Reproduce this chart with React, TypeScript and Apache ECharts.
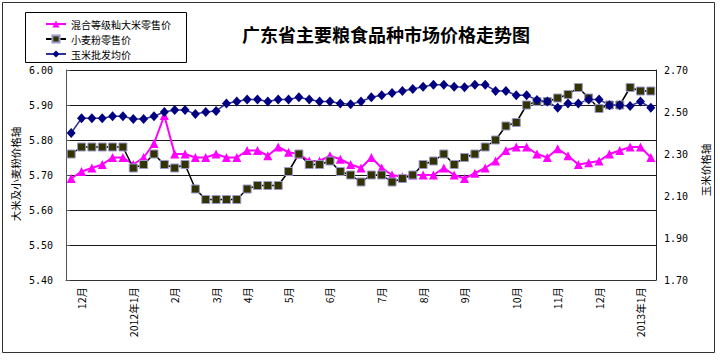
import React, { useEffect, useRef } from "react";
import * as echarts from "echarts";

const monthLabels = ["12月", "2012年1月", "2月", "3月", "4月", "5月", "6月", "7月", "8月", "9月", "10月", "11月", "12月", "2013年1月"];
const monthTickIndex = [1, 6, 10, 14, 17, 21, 25, 30, 34, 38, 43, 47, 51, 55];

const riceRetail = [
  5.69, 5.71, 5.72, 5.73, 5.75, 5.75, 5.73, 5.75, 5.79, 5.87,
  5.76, 5.76, 5.75, 5.75, 5.76, 5.75, 5.75, 5.77, 5.77, 5.755,
  5.78, 5.765, 5.76, 5.74, 5.74, 5.755, 5.745, 5.73, 5.72, 5.75,
  5.72, 5.70, 5.695, 5.70, 5.70, 5.70, 5.72, 5.70, 5.69, 5.705,
  5.72, 5.74, 5.77, 5.78, 5.78, 5.76, 5.75, 5.775, 5.755, 5.73,
  5.735, 5.74, 5.76, 5.77, 5.78, 5.78, 5.75,
];

const wheatFlourRetail = [
  5.76, 5.78, 5.78, 5.78, 5.78, 5.78, 5.72, 5.73, 5.76, 5.73,
  5.72, 5.73, 5.66, 5.63, 5.63, 5.63, 5.63, 5.66, 5.67, 5.67,
  5.67, 5.71, 5.76, 5.73, 5.73, 5.74, 5.71, 5.70, 5.68, 5.70,
  5.70, 5.68, 5.69, 5.70, 5.73, 5.74, 5.76, 5.73, 5.75, 5.76,
  5.78, 5.80, 5.84, 5.85, 5.90, 5.91, 5.91, 5.92, 5.93, 5.95,
  5.92, 5.89, 5.90, 5.90, 5.95, 5.94, 5.94,
];

const cornWholesale = [
  2.40, 2.47, 2.47, 2.47, 2.48, 2.48, 2.467, 2.467, 2.48, 2.50,
  2.51, 2.51, 2.49, 2.50, 2.505, 2.54, 2.55, 2.56, 2.56, 2.55,
  2.56, 2.56, 2.57, 2.56, 2.55, 2.55, 2.54, 2.537, 2.55, 2.57,
  2.58, 2.59, 2.60, 2.61, 2.62, 2.63, 2.63, 2.62, 2.618, 2.63,
  2.63, 2.60, 2.60, 2.58, 2.58, 2.557, 2.55, 2.52, 2.54, 2.54,
  2.56, 2.56, 2.532, 2.532, 2.529, 2.55, 2.52,
];

const seriesNames = ["混合等级籼大米零售价", "小麦粉零售价", "玉米批发均价"];
const titleText = "广东省主要粮食品种市场价格走势图";
const leftAxisTitle = "大米及小麦粉价格轴";
const rightAxisTitle = "玉米价格轴";

export default function App() {
  const ref = useRef<HTMLDivElement>(null);
  useEffect(() => {
    if (!ref.current) return;
    const chart = echarts.init(ref.current, null, { renderer: "svg" });
    const n = riceRetail.length;
    const cats = Array.from({ length: n }, (_, i) => "w" + i);
    const labelFor = (i: number) => {
      const k = monthTickIndex.indexOf(i);
      return k >= 0 ? monthLabels[k] : "";
    };
    const cjk = "'Noto Sans CJK SC', sans-serif";
    const mono = "'DejaVu Sans Mono', monospace";
    chart.setOption({
      animation: false,
      backgroundColor: "#ffffff",
      grid: { left: 66, right: 64, top: 70, bottom: 82, containLabel: false },
      legend: {
        orient: "vertical",
        left: 25,
        top: 13,
        padding: [5, 6, 4, 20],
        itemWidth: 20,
        itemHeight: 9,
        itemGap: 3,
        selectedMode: false,
        textStyle: { fontSize: 10, fontFamily: cjk, color: "#000", lineHeight: 12 },
        data: seriesNames,
      },
      xAxis: {
        type: "category",
        data: cats,
        boundaryGap: true,
        axisLine: { show: true, lineStyle: { color: "#333", width: 1 } },
        axisTick: { show: false },
        axisLabel: {
          interval: 0,
          rotate: 90,
          margin: 7,
          fontSize: 10.5,
          fontFamily: cjk,
          color: "#000",
          formatter: (_v: string, i: number) => labelFor(i),
        },
        splitLine: { show: false },
      },
      yAxis: [
        {
          type: "value",
          min: 5.4,
          max: 6.0,
          interval: 0.1,
          position: "left",
          axisLine: { show: true, lineStyle: { color: "#555", width: 1 } },
          axisTick: { show: true, inside: true, length: 4, lineStyle: { color: "#555" } },
          axisLabel: { fontSize: 10, fontFamily: mono, color: "#000", margin: 13, formatter: (v: number) => v.toFixed(2) },
          splitLine: { show: true, lineStyle: { color: "#1a1a1a", width: 1 } },
        },
        {
          type: "value",
          min: 1.7,
          max: 2.7,
          interval: 0.1,
          position: "right",
          axisLine: { show: true, lineStyle: { color: "#222", width: 1 } },
          axisTick: { show: false },
          axisLabel: {
            fontSize: 10,
            fontFamily: mono,
            color: "#000",
            margin: 8,
            formatter: (v: number) => (Math.round(v * 10) % 2 === 1 ? v.toFixed(2) : ""),
          },
          splitLine: { show: false },
        },
      ],
      graphic: [
        {
          type: "rect",
          shape: { x: 2.5, y: 2.5, width: 712, height: 350 },
          style: { fill: "none", stroke: "#333", lineWidth: 1 },
          silent: true,
        },
        {
          type: "rect",
          shape: { x: 25.5, y: 12.5, width: 161, height: 50 },
          style: { fill: "none", stroke: "#000", lineWidth: 1 },
          silent: true,
        },
        {
          type: "text",
          x: 386,
          y: 34,
          style: { text: titleText, fontSize: 18, fontWeight: "bold", fontFamily: cjk, fill: "#000", align: "center", verticalAlign: "middle" },
          silent: true,
        },
        {
          type: "text",
          x: 15,
          y: 174,
          rotation: Math.PI / 2,
          style: { text: leftAxisTitle, fontSize: 10.5, fontFamily: cjk, fill: "#000", align: "center", verticalAlign: "middle" },
          silent: true,
        },
        {
          type: "text",
          x: 705,
          y: 170,
          rotation: Math.PI / 2,
          style: { text: rightAxisTitle, fontSize: 10.5, fontFamily: cjk, fill: "#000", align: "center", verticalAlign: "middle" },
          silent: true,
        },
      ],
      series: [
        {
          name: seriesNames[0],
          type: "line",
          yAxisIndex: 0,
          data: riceRetail,
          symbol: "triangle",
          symbolSize: 9,
          showAllSymbol: true,
          lineStyle: { color: "#FF00FF", width: 2 },
          itemStyle: { color: "#FF00FF" },
          emphasis: { disabled: true },
          silent: true,
        },
        {
          name: seriesNames[1],
          type: "line",
          yAxisIndex: 0,
          data: wheatFlourRetail,
          symbol: "rect",
          symbolSize: 8,
          showAllSymbol: true,
          lineStyle: { color: "#000", width: 1.5 },
          itemStyle: { color: "#333300", borderColor: "#9999CC", borderWidth: 1 },
          emphasis: { disabled: true },
          silent: true,
        },
        {
          name: seriesNames[2],
          type: "line",
          yAxisIndex: 1,
          data: cornWholesale,
          symbol: "diamond",
          symbolSize: [9, 10],
          showAllSymbol: true,
          lineStyle: { color: "#333399", width: 1.5 },
          itemStyle: { color: "#000080" },
          emphasis: { disabled: true },
          silent: true,
        },
      ],
    });
    return () => chart.dispose();
  }, []);
  return (
    <div
      ref={ref}
      style={{ position: "absolute", left: 0, top: 0, width: 720, height: 362, background: "#fff" }}
    />
  );
}
